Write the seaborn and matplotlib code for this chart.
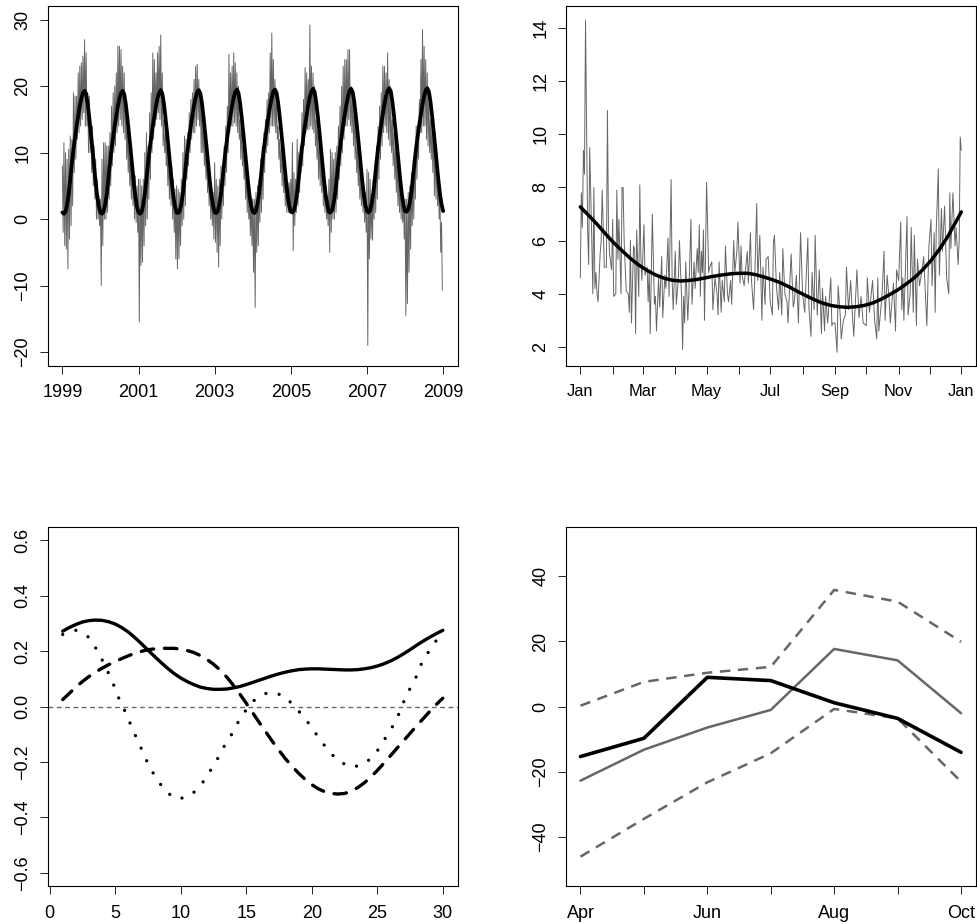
import numpy as np
import matplotlib
matplotlib.use('Agg')
import matplotlib.pyplot as plt
import seaborn as sns

temp_hi = [
    8, 11.5, 10, 9, 10.5, 12.5, 12, 19, 18.5, 18.5, 22, 23, 23.5, 24.5, 27, 25, 19, 18.5, 14, 14, 11, 9, 6, 3.5,
    3, 9, 11.5, 11.5, 11, 11, 13, 17, 19, 20, 22, 26, 26, 25.5, 23, 22, 18, 14, 11, 9.5, 9, 7, 6.5, 5,
    6, 6, 5, 6, 10, 13, 11, 16, 19, 25, 24, 22, 25, 26, 27.7, 22, 15, 13, 11, 10, 9, 8, 6, 4.5,
    5, 4.5, 4, 6, 10, 12.5, 12, 13, 16, 18, 19, 21, 23, 23.3, 21, 19, 17, 14, 12, 10.5, 8, 7, 5, 4,
    8.5, 6, 5, 6, 8, 8, 11, 14, 17, 24.8, 22, 23, 25, 23.5, 22, 20, 15, 15, 11, 9, 8, 6, 3, 3,
    3, 3, 4, 5, 6, 9, 11, 13, 15, 18, 19, 25, 28, 24, 21, 18, 14, 12, 11, 9, 7, 6, 5.5, 5.5,
    6, 11.5, 7, 6, 12, 10, 11, 16, 18, 22.8, 22, 21, 29.2, 23, 22, 20, 15, 14, 12, 10, 8, 7, 5, 3,
    6, 10.5, 10, 9, 10, 11, 14, 17, 20, 23, 24, 24, 25.5, 25.5, 20, 19, 17, 14, 11, 9, 7, 6, 5, 4,
    7.5, 7, 6, 3.5, 6, 8, 11, 14, 17, 19, 23, 23, 22, 25, 21, 18, 15, 13, 11, 10, 7, 6, 4, 3,
    3, 3, 4, 5, 7, 7, 10, 14, 14, 18, 24, 28.5, 26, 24, 22, 18, 15, 14, 15, 13, 10, 6, 3, -0.5,
]
temp_lo = [
    -2, -4, -4.5, -7.5, -3, -1, 2, 7, 9, 12, 13, 14, 15, 16, 14, 14, 10, 10, 7, 5, 3, 0, 0, -1,
    -10, -4, 0, 0, 1, 3, 5, 8, 10, 11, 13, 14, 15, 14, 13, 12, 9, 7, 5, 3, 2, 0, -0.5, -2,
    -15.5, -7, -6.5, -4, -1, 0, 3, 6, 10, 12, 14, 15, 16, 15, 14, 11, 10, 8, 5, 3, 2, 0, -2, -6,
    -7.5, -6, -4, -1, 0, 2, 6, 8, 10, 12, 13, 13, 14, 15, 14, 10, 10, 8, 6, 4, 2, 0, -1, -3,
    -3.5, -5, -7.2, -4, 0, 2, 5, 7, 10, 13, 14, 14, 14.5, 14, 13, 12, 9, 8, 6, 3, 1, 0, -2.5, -4,
    -8, -13.3, -5, -4, -0.5, 1, 3, 7, 10, 11, 13, 14, 14, 14, 13, 12, 9, 7, 5, 4, 2, 1, 1, 1,
    1, -4.7, -1, 1, 2, 4, 7, 8, 11, 13, 13.5, 13.5, 14, 13.5, 13, 11, 9, 6, 5, 4, 2, 1, 0, -1,
    -5, -2, 0, 0, 1, 3, 6, 8, 10, 12, 14, 14, 15, 14, 13, 11, 9, 7, 5, 3, 2, 1, -0.5, -2,
    -19, -6, -3, -3.2, 0, 1, 3, 6, 9, 11, 13, 14, 13, 12, 11, 10, 8, 6, 4, 2, 1, 0, -0.5, -3,
    -14.5, -12.7, -8, -4.5, -1, 0, 3, 6, 9, 13, 13, 14, 14, 12, 11, 10, 9, 7, 3.5, 3, 2, 0, -5, -10.7,
]
temp_fit = [
    1.0, 0.8, 1.1, 2.2, 3.8, 6.0, 8.4, 10.5, 12.3, 14.0, 15.5, 17.0, 18.2, 19.0, 19.3, 18.8, 17.3, 15.2, 12.9, 10.5, 8.0, 5.5, 3.4, 1.9,
    1.0, 0.8, 1.1, 2.2, 3.8, 6.0, 8.4, 10.5, 12.3, 14.0, 15.5, 17.0, 18.2, 19.0, 19.3, 18.8, 17.3, 15.2, 12.9, 10.5, 8.0, 5.5, 3.4, 1.9,
    1.0, 0.8, 1.1, 2.2, 3.8, 6.0, 8.4, 10.5, 12.3, 14.0, 15.5, 17.0, 18.2, 19.0, 19.4, 18.9, 17.4, 15.3, 13.0, 10.5, 8.0, 5.5, 3.4, 1.9,
    1.0, 0.9, 1.2, 2.3, 3.9, 6.1, 8.5, 10.6, 12.4, 14.1, 15.6, 17.1, 18.3, 19.1, 19.4, 18.9, 17.4, 15.3, 13.0, 10.6, 8.1, 5.6, 3.5, 2.0,
    1.0, 0.9, 1.2, 2.3, 3.9, 6.1, 8.5, 10.6, 12.4, 14.1, 15.6, 17.1, 18.3, 19.1, 19.5, 19.0, 17.5, 15.4, 13.1, 10.6, 8.1, 5.6, 3.5, 2.0,
    1.1, 0.9, 1.2, 2.3, 3.9, 6.1, 8.5, 10.6, 12.4, 14.1, 15.6, 17.1, 18.3, 19.2, 19.5, 19.0, 17.5, 15.4, 13.1, 10.7, 8.2, 5.7, 3.6, 2.0,
    1.1, 1.0, 1.3, 2.4, 4.0, 6.2, 8.6, 10.7, 12.5, 14.2, 15.7, 17.2, 18.4, 19.2, 19.6, 19.1, 17.6, 15.5, 13.2, 10.7, 8.2, 5.7, 3.6, 2.1,
    1.1, 1.0, 1.3, 2.4, 4.0, 6.2, 8.6, 10.7, 12.5, 14.2, 15.7, 17.2, 18.4, 19.3, 19.6, 19.1, 17.6, 15.5, 13.2, 10.8, 8.3, 5.8, 3.7, 2.1,
    1.2, 1.0, 1.3, 2.4, 4.0, 6.2, 8.6, 10.7, 12.6, 14.3, 15.8, 17.3, 18.5, 19.3, 19.7, 19.2, 17.7, 15.6, 13.3, 10.8, 8.3, 5.8, 3.7, 2.1,
    1.2, 1.1, 1.4, 2.5, 4.1, 6.3, 8.7, 10.8, 12.6, 14.3, 15.8, 17.3, 18.5, 19.4, 19.7, 19.2, 17.7, 15.6, 13.3, 10.9, 8.4, 5.9, 3.8, 2.2,
    1.2,
]
year_ticks = [1999, 2001, 2003, 2005, 2007, 2009]

# seasonal variance by day of year
var_day = [
    1, 2, 3, 4, 5, 6, 8, 9, 10, 12, 13, 14, 15, 16, 17, 18, 20, 21, 22, 24, 26, 27, 28, 29, 31, 32, 33, 35, 36, 37,
    38, 40, 41, 42, 43, 45, 47, 48, 49, 50, 52, 53, 54, 55, 57, 58, 59, 60, 62, 63, 65, 66, 67, 68, 70, 72, 73, 74, 76, 77,
    79, 80, 82, 83, 85, 86, 88, 89, 90, 92, 93, 95, 96, 98, 99, 100, 101, 102, 104, 105, 107, 108, 110, 111, 113, 114, 115, 116, 117, 118,
    119, 120, 122, 124, 125, 127, 128, 130, 132, 133, 134, 136, 137, 139, 140, 142, 143, 145, 146, 148, 149, 151, 152, 154, 155, 156, 158, 159, 161, 162,
    164, 165, 167, 168, 170, 171, 173, 175, 176, 178, 179, 181, 183, 185, 186, 187, 189, 191, 192, 194, 195, 197, 199, 200, 203, 205, 206, 208, 210, 212,
    214, 216, 219, 220, 222, 223, 225, 226, 228, 230, 232, 233, 235, 236, 238, 241, 242, 243, 245, 247, 248, 250, 251, 253, 255, 256, 258, 260, 262, 263,
    266, 268, 270, 272, 275, 276, 278, 281, 283, 285, 286, 287, 290, 292, 293, 295, 297, 298, 301, 303, 304, 306, 308, 309, 310, 311, 314, 315, 317, 318,
    320, 321, 323, 324, 326, 328, 330, 333, 335, 337, 338, 340, 341, 342, 344, 345, 347, 348, 350, 352, 354, 355, 356, 358, 360, 361, 363, 364, 365, 366,
]
var_val = [
    4.6, 7.8, 6.5, 9.4, 8.5, 14.3, 6.5, 5.1, 9.5, 6, 4, 8, 4.2, 4.8, 4, 3.7, 5.5, 6, 7.9, 5, 5, 10.9, 6.5, 5.5, 4.9, 6.8, 3.9, 4, 7.9, 5.3,
    6.8, 4, 8, 8, 6, 4.1, 4, 3.3, 6, 2.9, 5.8, 5.7, 2.5, 6.4, 3.9, 8.1, 5.4, 4.5, 6.6, 4.7, 5, 3.7, 4.9, 2.5, 7, 3.6, 3.9, 2.6, 4.6, 3.5,
    5.4, 3.1, 4.7, 4.2, 6.1, 3.9, 8.3, 4.5, 3.4, 5.6, 3.6, 4.6, 6, 3.9, 1.9, 3.9, 2.9, 5.2, 3, 4, 6.8, 3.6, 5.2, 4.2, 5.7, 4.8, 6.6, 3.9, 5.6, 4.8,
    6.4, 3, 8.2, 4.8, 5, 5.2, 3.4, 4.6, 4, 3.2, 5.2, 3.3, 4.5, 3.7, 5.8, 4, 3.7, 4.5, 3.6, 6, 4.8, 5.6, 6.7, 4.4, 5.8, 4.7, 4.3, 4.8, 5.6, 4.4,
    6.3, 4.5, 3.4, 4.4, 7.4, 4.5, 6.2, 3, 5, 3.6, 5.3, 5.4, 3.7, 3.2, 5.9, 6.2, 4.2, 3.4, 4.8, 3.2, 5.7, 4, 3.7, 2.9, 5.5, 3.5, 3.7, 4.7, 2.9, 6.3,
    4, 3.3, 6.1, 3.5, 2.4, 4.8, 3.4, 6.2, 3.2, 4.9, 2.5, 4.2, 2.6, 3.9, 2.9, 4.6, 2.8, 2.9, 2.9, 1.8, 4.3, 3.2, 2.3, 3, 3.2, 5, 3.4, 4.5, 3, 2.4,
    4.9, 3.1, 3.9, 2.9, 2.8, 4.6, 3.3, 4.5, 3, 2.3, 4.6, 2.6, 3.9, 5.6, 3, 4.7, 3.7, 2.9, 4.4, 2.6, 4.9, 4.5, 6.7, 3.4, 4.6, 3, 6.9, 3.2, 4, 6.5,
    3.3, 6.2, 2.8, 5.3, 4.3, 4.8, 5.4, 2.8, 5.8, 6.8, 4.3, 6.3, 3.3, 6.4, 8.7, 4.7, 7.2, 5.6, 7.3, 4.6, 4, 7.8, 5.7, 7.8, 5.8, 6.5, 5.1, 6, 9.9, 9.4,
]
var_fit_day = [1, 9, 17, 25, 33, 41, 49, 57, 65, 73, 81, 89, 97, 105, 113, 121, 129, 137, 145, 153, 161, 169, 177, 185,
               193, 201, 209, 217, 225, 233, 241, 249, 257, 265, 273, 281, 289, 297, 305, 313, 321, 329, 337, 345, 353, 361, 366]
var_fit = [7.27, 6.95, 6.62, 6.26, 5.92, 5.62, 5.33, 5.08, 4.88, 4.71, 4.59, 4.51, 4.48, 4.5, 4.54, 4.6, 4.66, 4.71, 4.75, 4.77, 4.77, 4.72, 4.63, 4.53,
           4.41, 4.26, 4.09, 3.93, 3.78, 3.65, 3.56, 3.51, 3.49, 3.51, 3.56, 3.65, 3.79, 3.96, 4.14, 4.36, 4.6, 4.9, 5.25, 5.67, 6.15, 6.72, 7.08]
month_days = [1, 32, 61, 92, 122, 153, 183, 214, 245, 275, 306, 336, 366]
month_labels = ['Jan', '', 'Mar', '', 'May', '', 'Jul', '', 'Sep', '', 'Nov', '', 'Jan']

# correlation curves, read every half lag
lag = [1, 1.5, 2, 2.5, 3, 3.5, 4, 4.5, 5, 5.5, 6, 6.5, 7, 7.5, 8, 8.5, 9, 9.5, 10, 10.5, 11, 11.5, 12, 12.5, 13, 13.5, 14, 14.5, 15, 15.5,
       16, 16.5, 17, 17.5, 18, 18.5, 19, 19.5, 20, 20.5, 21, 21.5, 22, 22.5, 23, 23.5, 24, 24.5, 25, 25.5, 26, 26.5, 27, 27.5, 28, 28.5, 29, 29.5, 30]
corr_solid = [.272, .285, .296, .305, .31, .312, .311, .306, .298, .285, .269, .249, .227, .204, .181, .159, .138, .119, .103, .09, .079, .07, .065, .062, .062, .063, .067, .072, .079, .087,
              .095, .103, .111, .118, .124, .129, .133, .135, .136, .136, .135, .134, .133, .132, .132, .133, .136, .14, .146, .154, .164, .176, .19, .205, .221, .236, .25, .263, .275]
corr_dash = [.025, .047, .07, .09, .108, .124, .138, .151, .162, .173, .183, .192, .199, .205, .208, .21, .21, .21, .207, .202, .195, .184, .17, .153, .132, .107, .078, .046, .012, -.023,
             -.058, -.092, -.126, -.158, -.189, -.216, -.241, -.263, -.282, -.297, -.308, -.314, -.316, -.314, -.306, -.293, -.276, -.255, -.231, -.205, -.178, -.151, -.124, -.097, -.07, -.044, -.018, .007, .03]
dot_lag = [1, 2, 3, 3.6, 4.1, 4.6, 5, 5.4, 5.9, 6.3, 6.8, 7.2, 7.7, 8.3, 8.9, 9.8, 10.8, 11.6, 12.2, 12.8, 13.3, 13.9, 14.4, 15,
           15.7, 16.7, 17.8, 18.6, 19.3, 20, 20.6, 21.3, 22, 23.1, 24.1, 24.9, 25.5, 26.1, 26.6, 27, 27.5, 28, 28.4, 29, 29.6, 30]
corr_dot = [.26, .275, .25, .205, .16, .11, .065, .015, -.03, -.08, -.13, -.175, -.225, -.27, -.31, -.335, -.32, -.28, -.237, -.19, -.145, -.1, -.055, -.012,
            .027, .052, .041, .006, -.033, -.075, -.118, -.16, -.197, -.22, -.205, -.168, -.123, -.078, -.032, .015, .065, .11, .158, .204, .245, .265]
lag_ticks = [0, 5, 10, 15, 20, 25, 30]

# monthly effects
months = ['Apr', '', 'Jun', '', 'Aug', '', 'Oct']
effect_black = [-15.3, -9.7, 9, 8, 1.2, -3.6, -14]
effect_gray = [-22.7, -13.2, -6.4, -1, 17.7, 14.2, -2]
effect_upper = [0.3, 7.6, 10.4, 12.2, 35.8, 32.2, 19.9]
effect_lower = [-46, -34.4, -23.2, -14.3, -0.7, -3.6, -23]

sns.set_style('ticks')
plt.rcParams['font.family'] = ['Liberation Sans', 'DejaVu Sans']
plt.rcParams['axes.unicode_minus'] = True
plt.rcParams['lines.scale_dashes'] = False
plt.rcParams['xtick.labelcolor'] = 'black'
plt.rcParams['ytick.labelcolor'] = 'black'

W, H = 977, 924
GRAY = '#666666'
fig = plt.figure(figsize=(W / 100, H / 100), dpi=100, facecolor='white')


def panel(left, right, top, bottom):
    ax = fig.add_axes([left / W, 1 - bottom / H, (right - left) / W, (bottom - top) / H])
    for s in ax.spines.values():
        s.set_linewidth(0.8)
        s.set_color('black')
    ax.tick_params(length=6, width=0.7, color='#222222', labelsize=13)
    ax.tick_params(axis='x', pad=7.5)
    ax.tick_params(axis='y', pad=5.5)
    return ax


def yticks(ax, vals, fmt='%g'):
    ax.set_yticks(vals)
    ax.set_yticklabels([(fmt % v).replace('-', '\u2212') for v in vals], rotation=90, va='center')


# top left
ax1 = panel(47.5, 458, 6, 365.5)
temp_zig = np.column_stack([temp_hi, temp_lo]).ravel()
temp_x = 1999 + np.arange(len(temp_zig)) / 48
sns.lineplot(x=temp_x, y=temp_zig, ax=ax1, color=GRAY, lw=0.7, estimator=None, sort=False, errorbar=None)
fit_x = 1999 + np.arange(len(temp_fit)) / 24
sns.lineplot(x=fit_x, y=temp_fit, ax=ax1, color='black', lw=2.7, estimator=None, sort=False, errorbar=None)
ax1.set_xlim(1998.61, 2009.39)
ax1.set_ylim(-22.03, 32.06)
ax1.set_xticks(year_ticks)
yticks(ax1, [-20, -10, 0, 10, 20, 30])

# top right
ax2 = panel(565.5, 976, 6, 365.5)
sns.lineplot(x=var_day, y=var_val, ax=ax2, color=GRAY, lw=0.7, estimator=None, sort=False, errorbar=None)
sns.lineplot(x=var_fit_day, y=var_fit, ax=ax2, color='black', lw=2.5, estimator=None, sort=False, errorbar=None)
ax2.set_xlim(-13.18, 380.1)
ax2.set_ylim(1.30, 14.83)
ax2.set_xticks(month_days)
ax2.set_xticklabels(month_labels, fontsize=11.8)
yticks(ax2, [2, 4, 6, 8, 10, 12, 14])

# bottom left
ax3 = panel(47.5, 458, 527, 886)
ax3.axhline(0, color=GRAY, lw=1.0, linestyle=(0, (3.4, 2.6)))
sns.lineplot(x=lag, y=corr_solid, ax=ax3, color='black', lw=2.4, estimator=None, sort=False, errorbar=None)
sns.lineplot(x=lag, y=corr_dash, ax=ax3, color='black', lw=2.4, estimator=None, sort=False, errorbar=None,
             linestyle=(0, (9, 7.8)), dash_capstyle='round')
sns.lineplot(x=dot_lag, y=corr_dot, ax=ax3, color='black', lw=2.4, estimator=None, sort=False, errorbar=None,
             linestyle=(0, (0.01, 9.9)), dash_capstyle='round')
ax3.set_xlim(-0.16, 31.16)
ax3.set_ylim(-0.648, 0.648)
ax3.set_xticks(lag_ticks)
yticks(ax3, [-0.6, -0.4, -0.2, 0.0, 0.2, 0.4, 0.6], '%.1f')

# bottom right
ax4 = panel(565.5, 976, 527, 886)
xs = list(range(len(months)))
for vals in (effect_upper, effect_lower):
    sns.lineplot(x=xs, y=vals, ax=ax4, color=GRAY, lw=1.8, estimator=None, sort=False, errorbar=None,
                 linestyle=(0, (7.5, 5.5)))
sns.lineplot(x=xs, y=effect_gray, ax=ax4, color=GRAY, lw=1.8, estimator=None, sort=False, errorbar=None)
sns.lineplot(x=xs, y=effect_black, ax=ax4, color='black', lw=2.6, estimator=None, sort=False, errorbar=None)
ax4.set_xlim(-0.236, 6.236)
ax4.set_ylim(-55, 55.1)
ax4.set_xticks(xs)
ax4.set_xticklabels(months)
yticks(ax4, [-40, -20, 0, 20, 40])

fig.savefig('out.png', dpi=100)
